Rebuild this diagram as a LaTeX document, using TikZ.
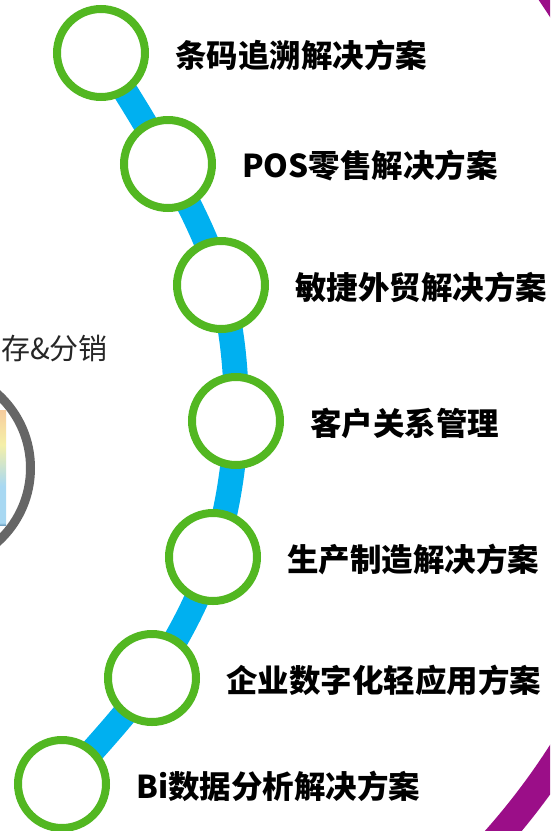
\documentclass[tikz,border=0pt]{standalone}
\usepackage{fontspec}
\newfontfamily\cjk{Noto Sans CJK SC}
\definecolor{ringgreen}{HTML}{52B721}
\definecolor{lineblue}{HTML}{00B0F0}
\definecolor{purplering}{HTML}{9B0E88}
\definecolor{grayring}{HTML}{666666}
\definecolor{textgray}{HTML}{262626}
\definecolor{s1}{HTML}{F5F0DC}
\definecolor{s2}{HTML}{3D6F96}
\definecolor{s3}{HTML}{A8D8F2}
\definecolor{s4}{HTML}{F5F0A8}
\definecolor{s5}{HTML}{F7C09A}
\definecolor{s6}{HTML}{C0E4F5}
\pgfdeclareverticalshading{photostrip}{100bp}{color(0bp)=(s1); color(18bp)=(s1); color(20bp)=(s2); color(24bp)=(s2); color(26bp)=(s3); color(42bp)=(s3); color(60bp)=(s4); color(80bp)=(s5); color(100bp)=(s6)}
\begin{document}
\begin{tikzpicture}[x=1pt,y=-1pt,
  stop/.style={circle, draw=ringgreen, line width=8pt, fill=white, minimum size=88pt, inner sep=0pt},
  lbl/.style={anchor=west, font=\cjk\bfseries\fontsize{31.5}{36}\selectfont, text=black, inner sep=0pt}]
\useasboundingbox (0,0) rectangle (550,831);
\clip (0,0) rectangle (550,831);
% purple ring at right
\draw[purplering, line width=28pt] (-21,381) circle[radius=691];
% gray ring with photo on left
\draw[grayring, line width=9pt, fill=white] (-69,468) circle[radius=99.5];
\shade[shading=photostrip] (0,410) rectangle (6,525);
\node[anchor=east, font=\cjk\fontsize{29}{33}\selectfont, text=textgray, inner sep=0pt] (lefttext) at (108,349) {存\&分销};
% stops
\coordinate (p1) at (101,53);
\coordinate (p2) at (168,164);
\coordinate (p3) at (221,285);
\coordinate (p4) at (236,421);
\coordinate (p5) at (213,557);
\coordinate (p6) at (152,678);
\coordinate (p7) at (62,784);
\draw[lineblue, line width=25pt] plot[smooth, tension=0.6] coordinates {(p1) (p2) (p3) (p4) (p5) (p6) (p7)};
\node[stop] (c1) at (p1) {};
\node[stop] (c2) at (p2) {};
\node[stop] (c3) at (p3) {};
\node[stop] (c4) at (p4) {};
\node[stop] (c5) at (p5) {};
\node[stop] (c6) at (p6) {};
\node[stop] (c7) at (p7) {};
\node[lbl] (t1) at ([xshift=26pt,yshift=-2pt]c1.east) {条码追溯解决方案};
\node[lbl] (t2) at ([xshift=26pt,yshift=-2pt]c2.east) {POS零售解决方案};
\node[lbl] (t3) at ([xshift=26pt,yshift=-2pt]c3.east) {敏捷外贸解决方案};
\node[lbl] (t4) at ([xshift=26pt,yshift=-2pt]c4.east) {客户关系管理};
\node[lbl] (t5) at ([xshift=26pt,yshift=-2pt]c5.east) {生产制造解决方案};
\node[lbl] (t6) at ([xshift=26pt,yshift=-2pt]c6.east) {企业数字化轻应用方案};
\node[lbl] (t7) at ([xshift=26pt,yshift=-2pt]c7.east) {Bi数据分析解决方案};
\end{tikzpicture}
\end{document}
